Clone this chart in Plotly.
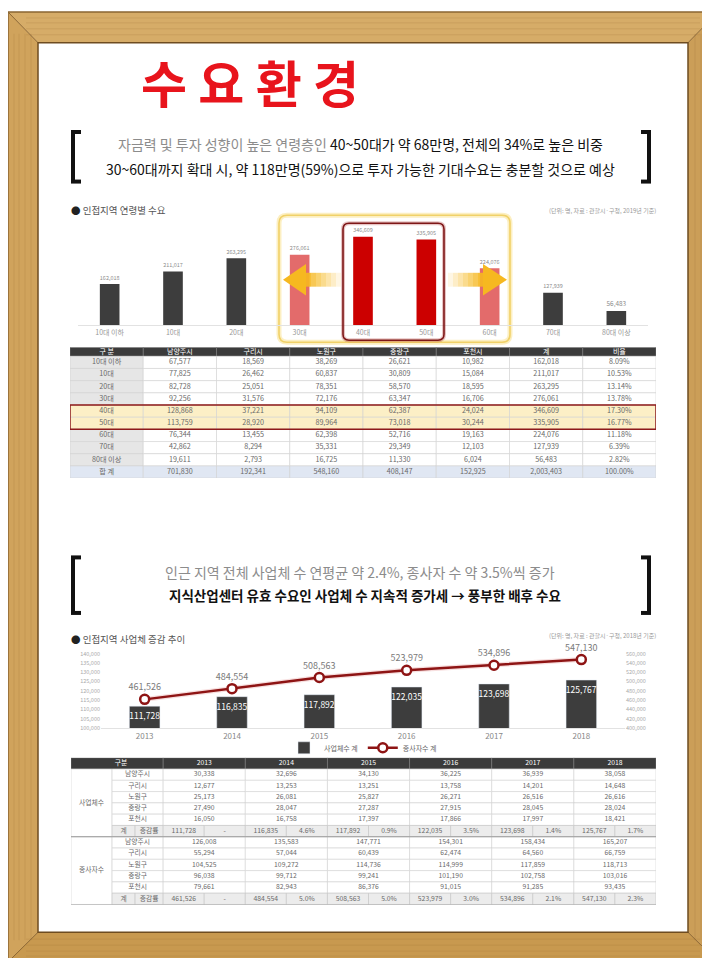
import plotly.graph_objects as go

W, H = 710, 958
FONT = "Noto Sans CJK KR"


def fx(x):
    return x / W


def fy(y):
    return 1 - y / H


# ---------------- data: chart / table 1 ----------------
age_groups = ["10대 이하", "10대", "20대", "30대", "40대", "50대", "60대", "70대", "80대 이상"]
pop_namyangju = [67577, 77825, 82728, 92256, 128868, 113759, 76344, 42862, 19611]
pop_guri = [18569, 26462, 25051, 31576, 37221, 28920, 13455, 8294, 2793]
pop_nowon = [38269, 60837, 78351, 72176, 94109, 89964, 62398, 35331, 16725]
pop_jungnang = [26621, 30809, 58570, 63347, 62387, 73018, 52716, 29349, 11330]
pop_pocheon = [10982, 15084, 18595, 16706, 24024, 30244, 19163, 12103, 6024]
pop_total = [162018, 211017, 263295, 276061, 346609, 335905, 224076, 127939, 56483]
pop_ratio = ["8.09%", "10.53%", "13.14%", "13.78%", "17.30%", "16.77%", "11.18%", "6.39%", "2.82%"]
districts = ["남양주시", "구리시", "노원구", "중랑구", "포천시"]
table1_header = ["구 분"] + districts + ["계", "비율"]

# ---------------- data: chart / table 2 ----------------
years = ["2013", "2014", "2015", "2016", "2017", "2018"]
biz_namyangju = [30338, 32696, 34130, 36225, 36939, 38058]
biz_guri = [12677, 13253, 13251, 13758, 14201, 14648]
biz_nowon = [25173, 26081, 25827, 26271, 26516, 26616]
biz_jungnang = [27490, 28047, 27287, 27915, 28045, 28024]
biz_pocheon = [16050, 16758, 17397, 17866, 17997, 18421]
biz_total = [111728, 116835, 117892, 122035, 123698, 125767]
biz_rate = ["-", "4.6%", "0.9%", "3.5%", "1.4%", "1.7%"]

emp_namyangju = [126008, 135583, 147771, 154301, 158434, 165207]
emp_guri = [55294, 57044, 60439, 62474, 64560, 66759]
emp_nowon = [104525, 109272, 114736, 114999, 117859, 118713]
emp_jungnang = [96038, 99712, 99241, 101190, 102758, 103016]
emp_pocheon = [79661, 82943, 86376, 91015, 91285, 93435]
emp_total = [461526, 484554, 508563, 523979, 534896, 547130]
emp_rate = ["-", "5.0%", "5.0%", "3.0%", "2.1%", "2.3%"]

fmt = lambda v: f"{v:,}"

fig = go.Figure()
shapes = []
ann = []


def P(x, y):
    return f"{fx(x):.5f},{fy(y):.5f}"


def poly(pts, color, line=None, layer="below"):
    path = "M" + " L".join(P(x, y) for x, y in pts) + " Z"
    shapes.append(dict(type="path", path=path, xref="paper", yref="paper",
                       fillcolor=color, line=line or dict(width=0), layer=layer))


def rrect(x0, y0, x1, y1, r, color, width, fill="rgba(0,0,0,0)", layer="below"):
    path = (f"M{P(x0 + r, y0)} L{P(x1 - r, y0)} Q{P(x1, y0)} {P(x1, y0 + r)} "
            f"L{P(x1, y1 - r)} Q{P(x1, y1)} {P(x1 - r, y1)} L{P(x0 + r, y1)} "
            f"Q{P(x0, y1)} {P(x0, y1 - r)} L{P(x0, y0 + r)} Q{P(x0, y0)} {P(x0 + r, y0)} Z")
    shapes.append(dict(type="path", path=path, xref="paper", yref="paper",
                       fillcolor=fill, line=dict(color=color, width=width), layer=layer))


def seg(x0, y0, x1, y1, color, width, layer="above"):
    shapes.append(dict(type="line", xref="paper", yref="paper", x0=fx(x0), y0=fy(y0),
                       x1=fx(x1), y1=fy(y1), line=dict(color=color, width=width), layer=layer))


# ---------------- wooden frame ----------------
fl, ft, fr, fb = 30, 31, 680, 928
poly([(0, 0), (W, 0), (fr, ft), (fl, ft)], "#d6ac68")
poly([(0, H), (W, H), (fr, fb), (fl, fb)], "#c8994f")
poly([(0, 0), (fl, ft), (fl, fb), (0, H)], "#d0a35c")
poly([(W, 0), (fr, ft), (fr, fb), (W, H)], "#cb9e58")
for yy in (6, 11, 17, 23):
    seg(18, yy, 692, yy, "rgba(160,115,55,0.22)", 1, layer="below")
    seg(18, H - yy, 692, H - yy, "rgba(160,115,55,0.22)", 1, layer="below")
for xx in (6, 11, 17, 23):
    seg(xx, 22, xx, H - 22, "rgba(160,115,55,0.22)", 1, layer="below")
    seg(W - xx, 22, W - xx, H - 22, "rgba(160,115,55,0.22)", 1, layer="below")
for (a, b, c, d) in [(0, 0, fl, ft), (W, 0, fr, ft), (0, H, fl, fb), (W, H, fr, fb)]:
    seg(a, b, c, d, "#8a6430", 1, layer="below")
shapes.append(dict(type="rect", xref="paper", yref="paper", x0=fx(fl), x1=fx(fr), y0=fy(fb), y1=fy(ft),
                   fillcolor="white", line=dict(color="#6e4c20", width=1.5), layer="below"))
shapes.append(dict(type="rect", xref="paper", yref="paper", x0=0, x1=1, y0=0, y1=1,
                   fillcolor="rgba(0,0,0,0)", line=dict(color="#8a6632", width=1.5), layer="below"))

# ---------------- chart 1: bars ----------------
bar1_colors = ["#3d3d3d", "#3d3d3d", "#3d3d3d", "#e36b6b", "#cc0000", "#cc0000", "#e36b6b", "#3d3d3d", "#3d3d3d"]
fig.add_trace(go.Bar(
    x=age_groups, y=pop_total, width=0.31, marker=dict(color=bar1_colors, line=dict(width=0)),
    text=[fmt(v) for v in pop_total], textposition="outside",
    textfont=dict(size=7.5, color="#8a8a8a", family=FONT), cliponaxis=False,
    xaxis="x", yaxis="y", showlegend=False, hoverinfo="skip"))

# ---------------- chart 2: bars + line ----------------
fig.add_trace(go.Bar(
    x=years, y=biz_total, name="사업체수 계", width=0.35, marker=dict(color="#3d3d3d"),
    text=[fmt(v) for v in biz_total], textposition="inside", insidetextanchor="end",
    constraintext="none", textangle=0, cliponaxis=False,
    textfont=dict(size=8.5, color="white", family=FONT),
    xaxis="x2", yaxis="y3", hoverinfo="skip"))
fig.add_trace(go.Scatter(
    x=years, y=emp_total, mode="lines", line=dict(color="rgba(200,40,40,0.15)", width=5),
    xaxis="x2", yaxis="y4", showlegend=False, hoverinfo="skip"))
fig.add_trace(go.Scatter(
    x=years, y=emp_total, name="종사자수 계", mode="lines+markers+text",
    line=dict(color="#8e1414", width=2.5),
    marker=dict(size=9, color="white", line=dict(color="#8e1414", width=2.5)),
    text=[fmt(v) for v in emp_total], textposition="top center",
    textfont=dict(size=9, color="#7a7a7a", family=FONT), cliponaxis=False,
    xaxis="x2", yaxis="y4", hoverinfo="skip"))

# ---------------- generic table helpers ----------------
TXT = "#6a6a6a"


def cell(xr, yr, x0, x1, y0, y1, fill, lc="#d2d2d2", lw=0.6):
    shapes.append(dict(type="rect", xref=xr, yref=yr, x0=x0, x1=x1, y0=y0, y1=y1,
                       fillcolor=fill, line=dict(color=lc, width=lw), layer="below"))


def add_text(xa, ya, xs, ys, ts, color, size=7.2):
    fig.add_trace(go.Scatter(x=xs, y=ys, text=ts, mode="text", xaxis=xa, yaxis=ya,
                             textfont=dict(size=size, color=color, family=FONT),
                             textposition="middle center", cliponaxis=False,
                             showlegend=False, hoverinfo="skip"))


# ---------------- table 1 ----------------
t1_cols = [age_groups + ["합 계"]]
for lst in [pop_namyangju, pop_guri, pop_nowon, pop_jungnang, pop_pocheon, pop_total]:
    t1_cols.append([fmt(v) for v in lst] + [fmt(sum(lst))])
t1_cols.append(pop_ratio + ["100.00%"])
n1 = len(t1_cols[0])
hx, hy, ht = [], [], []
for c, name in enumerate(table1_header):
    cell("x3", "y5", c, c + 1, -0.75, 0, "#3b3b3b", "#7a7a7a", 0.6)
    hx.append(c + 0.5); hy.append(-0.375); ht.append(name)
bx, by, bt = [], [], []
for c, col in enumerate(t1_cols):
    for i, v in enumerate(col):
        if i in (4, 5):
            f = "#fcefc6"
        elif i == n1 - 1:
            f = "#e0e7f3"
        else:
            f = "#e6e6e6" if c == 0 else "white"
        cell("x3", "y5", c, c + 1, i, i + 1, f)
        bx.append(c + 0.5); by.append(i + 0.5); bt.append(v)
shapes.append(dict(type="rect", xref="x3", yref="y5", x0=0, x1=len(t1_cols), y0=4, y1=6,
                   fillcolor="rgba(0,0,0,0)", line=dict(color="#8e1a1a", width=1.5), layer="above"))
add_text("x3", "y5", hx, hy, ht, "white", 7)
add_text("x3", "y5", bx, by, bt, TXT)

# ---------------- table 2 ----------------
GW, CW, YW = 41, 51, 82
SW1, SW2 = 23, 28
t2x0 = GW + CW
hx, hy, ht = [], [], []
cell("x4", "y6", 0, t2x0, -1, 0, "#3b3b3b", "#7a7a7a", 0.6)
hx.append(t2x0 / 2 + 4); hy.append(-0.5); ht.append("구분")
for j, yv in enumerate(years):
    cell("x4", "y6", t2x0 + YW * j, t2x0 + YW * (j + 1), -1, 0, "#3b3b3b", "#7a7a7a", 0.6)
    hx.append(t2x0 + YW * (j + 0.5)); hy.append(-0.5); ht.append(yv)
add_text("x4", "y6", hx, hy, ht, "white", 6.8)

blocks = [
    ("사업체수", [biz_namyangju, biz_guri, biz_nowon, biz_jungnang, biz_pocheon], biz_total, biz_rate),
    ("종사자수", [emp_namyangju, emp_guri, emp_nowon, emp_jungnang, emp_pocheon], emp_total, emp_rate),
]
bx, by, bt = [], [], []
for b, (label, lists, tot, rate) in enumerate(blocks):
    r0 = 6 * b
    cell("x4", "y6", 0, GW, r0, r0 + 6, "white", "#cfcfcf")
    bx.append(GW / 2); by.append(r0 + 3); bt.append(label)
    for i, name in enumerate(districts):
        cell("x4", "y6", GW, t2x0, r0 + i, r0 + i + 1, "white")
        bx.append(GW + CW / 2); by.append(r0 + i + 0.5); bt.append(name)
        for j in range(len(years)):
            cell("x4", "y6", t2x0 + YW * j, t2x0 + YW * (j + 1), r0 + i, r0 + i + 1, "white")
            bx.append(t2x0 + YW * (j + 0.5)); by.append(r0 + i + 0.5); bt.append(fmt(lists[i][j]))
    rt = r0 + 5
    cell("x4", "y6", GW, GW + SW1, rt, rt + 1, "#ececec", "#c4c4c4")
    cell("x4", "y6", GW + SW1, t2x0, rt, rt + 1, "#ececec", "#c4c4c4")
    bx += [GW + SW1 / 2, GW + SW1 + SW2 / 2]; by += [rt + 0.5, rt + 0.5]; bt += ["계", "증감률"]
    for j in range(len(years)):
        xa = t2x0 + YW * j
        cell("x4", "y6", xa, xa + YW / 2, rt, rt + 1, "#ececec", "#c4c4c4")
        cell("x4", "y6", xa + YW / 2, xa + YW, rt, rt + 1, "#ececec", "#c4c4c4")
        bx += [xa + YW / 4, xa + 3 * YW / 4]; by += [rt + 0.5, rt + 0.5]
        bt += [fmt(tot[j]), rate[j]]
    shapes.append(dict(type="line", xref="x4", yref="y6", x0=0, x1=t2x0 + YW * 6, y0=r0 + 6, y1=r0 + 6,
                       line=dict(color="#9a9a9a", width=1.2), layer="above"))
add_text("x4", "y6", bx, by, bt, TXT, 6.8)

# ---------------- decorative shapes ----------------
# brackets
for (top, bot) in [(121, 171), (550, 606)]:
    seg(65, top, 65, bot, "#111", 4)
    seg(63, top, 73, top, "#111", 4)
    seg(63, bot, 73, bot, "#111", 4)
    seg(641, top, 641, bot, "#111", 4)
    seg(643, top, 633, top, "#111", 4)
    seg(643, bot, 633, bot, "#111", 4)

# highlight boxes in chart 1
rrect(271, 205, 502, 333, 8, "rgba(245,210,80,0.35)", 5)
rrect(271, 205, 502, 333, 8, "#f0d168", 1.6)
rrect(335, 213, 436, 331, 6, "rgba(160,20,20,0.25)", 4, layer="above")
rrect(335, 213, 436, 331, 6, "#7e1616", 1.6, layer="above")

# arrows
acol = "#f6b820"
for k in range(7):
    op = 0.12 + 0.13 * k
    xa = 333 - k * 5
    shapes.append(dict(type="rect", xref="paper", yref="paper", x0=fx(xa - 5), x1=fx(xa),
                       y0=fy(277), y1=fy(263), fillcolor=f"rgba(246,184,32,{op:.2f})",
                       line=dict(width=0), layer="above"))
    xb = 440 + k * 5
    shapes.append(dict(type="rect", xref="paper", yref="paper", x0=fx(xb), x1=fx(xb + 5),
                       y0=fy(277), y1=fy(263), fillcolor=f"rgba(246,184,32,{op:.2f})",
                       line=dict(width=0), layer="above"))
poly([(298, 254), (298, 286), (275, 270)], acol, layer="above")
poly([(475, 254), (475, 286), (499, 270)], acol, layer="above")

# ---------------- annotations ----------------


def text(x, y, s, size, color="#111", xanchor="center", bold=False):
    ann.append(dict(x=fx(x), y=fy(y), xref="paper", yref="paper", text=f"<b>{s}</b>" if bold else s,
                    showarrow=False, xanchor=xanchor, yanchor="middle",
                    font=dict(size=size, color=color, family=FONT)))


text(242, 70, "수 요 환 경", 50, "#e8141c", bold=True)
text(352, 133, "<span style='color:#8c8c8c'>자금력 및 투자 성향이 높은 연령층인</span> 40~50대가 약 68만명, 전체의 34%로 높은 비중", 14)
text(352, 158, "30~60대까지 확대 시, 약 118만명(59%)으로 투자 가능한 기대수요는 충분할 것으로 예상", 14)
text(352, 565, "인근 지역 전체 사업체 수 연평균 약 2.4%, 종사자 수 약 3.5%씩 증가", 14, "#8c8c8c")
text(357, 588, "지식산업센터 유효 수요인 사업체 수 지속적 증가세 → 풍부한 배후 수요", 13.5, "#111", bold=True)

text(61, 200, "<span style='color:#222'>●</span> 인접지역 연령별 수요", 9.5, "#555", xanchor="left")
text(650, 200, "(단위: 명, 자료 : 관할시·구청, 2019년 기준)", 6, "#999", xanchor="right")
text(61, 632, "<span style='color:#222'>●</span> 인접지역 사업체 증감 추이", 9.5, "#555", xanchor="left")
text(650, 629, "(단위: 명, 자료 : 관할시·구청, 2018년 기준)", 6, "#999", xanchor="right")

hidden = dict(visible=False, showgrid=False, zeroline=False, fixedrange=True)
fig.update_layout(
    width=W, height=H, margin=dict(l=0, r=0, t=0, b=0),
    paper_bgcolor="white", plot_bgcolor="rgba(0,0,0,0)",
    font=dict(family=FONT),
    shapes=shapes, annotations=ann,
    xaxis=dict(domain=[fx(70), fx(640)], anchor="y", showline=True, linecolor="#e2e2e2", linewidth=1,
               ticks="", tickfont=dict(size=7, color="#999"), showgrid=False, fixedrange=True),
    yaxis=dict(domain=[fy(316), fy(213)], anchor="x", range=[0, 400000], visible=False, showgrid=False),
    xaxis2=dict(domain=[fx(93), fx(617)], anchor="y3", showline=True, linecolor="#e2e2e2", linewidth=1,
                ticks="", tickfont=dict(size=8, color="#888"), showgrid=False),
    yaxis3=dict(domain=[fy(722), fy(647)], anchor="x2", range=[100000, 140000], dtick=5000,
                tickformat=",", tickfont=dict(size=5.5, color="#aaa"), showgrid=False, zeroline=False),
    yaxis4=dict(domain=[fy(722), fy(647)], anchor="x2", overlaying="y3", side="right",
                range=[400000, 560000], dtick=20000, tickformat=",",
                tickfont=dict(size=5.5, color="#aaa"), showgrid=False, zeroline=False),
    xaxis3=dict(domain=[fx(62), fx(648)], anchor="y5", range=[0, 8], **hidden),
    yaxis5=dict(domain=[fy(470), fy(338)], anchor="x3", range=[10, -0.75], **hidden),
    xaxis4=dict(domain=[fx(63), fx(648)], anchor="y6", range=[0, GW + CW + YW * 6], **hidden),
    yaxis6=dict(domain=[fy(900), fy(752)], anchor="x4", range=[12, -1], **hidden),
    legend=dict(orientation="h", x=0.5, xanchor="center", y=fy(742), yanchor="middle",
                font=dict(size=7, color="#666", family=FONT), bgcolor="rgba(0,0,0,0)",
                itemwidth=30, tracegroupgap=0),
)

fig.write_html("out.html")
